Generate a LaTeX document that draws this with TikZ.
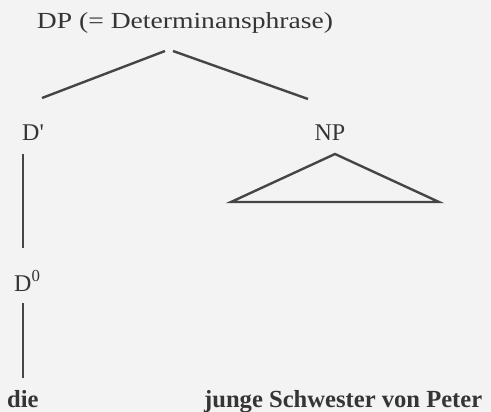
\documentclass[tikz,border=0pt]{standalone}
\usepackage{fontspec}
\usepackage{graphicx}
\setmainfont{Liberation Serif}
\definecolor{inkgray}{HTML}{353535}
\definecolor{linegray}{HTML}{454545}
\definecolor{paper}{HTML}{F3F3F3}
\begin{document}
\begin{tikzpicture}[x=1pt,y=-1pt,
  cat/.style={text=inkgray,inner sep=0pt,anchor=base,font=\fontsize{24}{24}\selectfont},
  word/.style={text=inkgray,inner sep=0pt,anchor=base,font=\fontsize{24.6}{24.6}\selectfont\bfseries},
  branch/.style={draw=linegray,line width=2.4pt}]
  % paper background and bounding box
  \fill[paper] (0,0) rectangle (491,412);
  \useasboundingbox (0,0) rectangle (491,412);

  % category labels
  \node[cat,font=\fontsize{23}{23}\selectfont] (dp) at (185,29) {\scalebox{1.2}[1]{DP (= Determinansphrase)}};
  \node[cat,anchor=base west] (dbar) at (22,141) {D\textquotesingle};
  \node[cat] (np) at (330,141) {NP};
  \node[cat,anchor=base west] (dnull) at (14,291) {D\textsuperscript{0}};

  % terminal words
  \node[word,anchor=base west] (die) at (7,407) {die};
  \node[word,anchor=base west] (rest) at (204,407) {junge Schwester von Peter};

  % branch end points
  \coordinate (dpl) at (165,51);
  \coordinate (dpr) at (173,51);
  \coordinate (dbartop) at (42,98);
  \coordinate (nptop) at (308,99);
  \coordinate (dbarlow) at (23,154);
  \coordinate (dnullup) at (23,248);
  \coordinate (dnulllow) at (23,303);
  \coordinate (dieup) at (23,378);
  \coordinate (apex) at (335,154);
  \coordinate (triL) at (231,202);
  \coordinate (triR) at (439,202);

  % branches
  \draw[branch] (dpl) -- (dbartop);
  \draw[branch] (dpr) -- (nptop);
  \draw[branch] (dbarlow) -- (dnullup);
  \draw[branch] (dnulllow) -- (dieup);
  \draw[branch,line join=miter] (triL) -- (apex) -- (triR) -- cycle;
\end{tikzpicture}
\end{document}
